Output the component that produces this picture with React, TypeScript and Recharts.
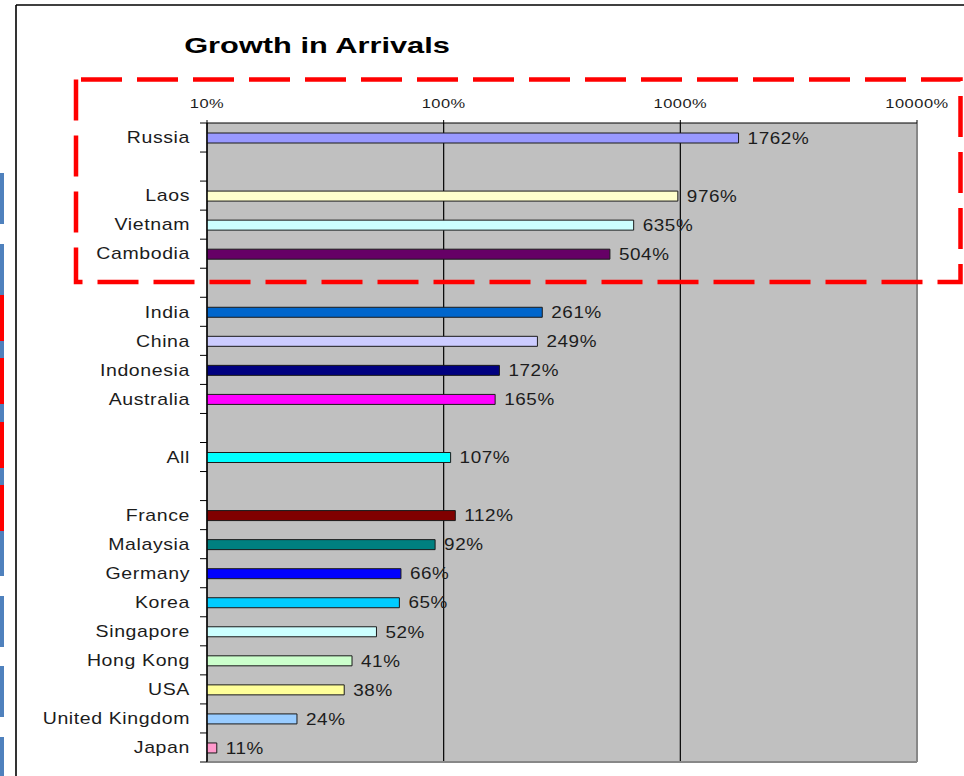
import React from 'react';
import {
  BarChart,
  Bar,
  XAxis,
  YAxis,
  CartesianGrid,
  Cell,
  LabelList,
  ReferenceLine,
} from 'recharts';

// ---- data ----
const CATEGORIES = [
  'Russia', '', 'Laos', 'Vietnam', 'Cambodia', '',
  'India', 'China', 'Indonesia', 'Australia', '',
  'All', '',
  'France', 'Malaysia', 'Germany', 'Korea', 'Singapore',
  'Hong Kong', 'USA', 'United Kingdom', 'Japan',
];
const GROWTH: (number | null)[] = [
  1762, null, 976, 635, 504, null,
  261, 249, 172, 165, null,
  107, null,
  112, 92, 66, 65, 52,
  41, 38, 24, 11,
];
const BAR_COLORS = [
  '#9999FF', '#000000', '#FFFFCC', '#CCFFFF', '#660066', '#000000',
  '#0066CC', '#CCCCFF', '#000080', '#FF00FF', '#000000',
  '#00FFFF', '#000000',
  '#800000', '#008080', '#0000FF', '#00CCFF', '#CCFFFF',
  '#CCFFCC', '#FFFF99', '#99CCFF', '#FF99CC',
];
const X_TICKS = [10, 100, 1000, 10000];
const TITLE = 'Growth in Arrivals';

const rows = CATEGORIES.map((name, i) => ({ id: `r${i}`, name, value: GROWTH[i] }));

// ---- layout ----
const W = 964;
const H = 776;
const MARGIN = { top: 93, right: 47, bottom: 13, left: 0 };
const TOP_AXIS_H = 30;
const BOTTOM_AXIS_H = 1;
const Y_AXIS_W = 207;
const PLOT_H = H - MARGIN.top - MARGIN.bottom - TOP_AXIS_H - BOTTOM_AXIS_H;
const ROW_H = PLOT_H / rows.length;
const FONT = 'Arial, "Liberation Sans", sans-serif';
const TEXT = '#1c1c1c';
const Y_TICK_SIZE = 7;
const Y_TICK_MARGIN = 8;

const CategoryTick = (props: any) => {
  const { x, y, index } = props;
  const name = rows[index] ? rows[index].name : '';
  const axisX = x + Y_TICK_SIZE + Y_TICK_MARGIN;
  const last = index === rows.length - 1;
  return (
    <g>
      <line x1={axisX - Y_TICK_SIZE} x2={axisX} y1={y - ROW_H / 2} y2={y - ROW_H / 2} stroke="#000" strokeWidth={1} />
      {last && (
        <line x1={axisX - Y_TICK_SIZE} x2={axisX} y1={y + ROW_H / 2} y2={y + ROW_H / 2} stroke="#000" strokeWidth={1} />
      )}
      {name && (
        <text
          transform={`translate(${x - 2},${y}) scale(1.22,1)`}
          dy="0.36em"
          textAnchor="end"
          fontFamily={FONT}
          fontSize={16}
          fill={TEXT}
          style={{ letterSpacing: '0.5px' }}
        >
          {name}
        </text>
      )}
    </g>
  );
};

const PercentTick = (props: any) => {
  const { x, y, payload } = props;
  return (
    <text
      transform={`translate(${x},${y}) scale(1.22,1)`}
      textAnchor="middle"
      fontFamily={FONT}
      fontSize={13.5}
      fill={TEXT}
      style={{ letterSpacing: '0.4px' }}
    >
      {`${payload.value}%`}
    </text>
  );
};

const ValueLabel = (props: any) => {
  const { value } = props;
  if (value === null || value === undefined) return null;
  const vb = props.viewBox || props;
  const x = (vb.x ?? props.x) as number;
  const y = (vb.y ?? props.y) as number;
  const w = (vb.width ?? props.width) as number;
  const h = (vb.height ?? props.height) as number;
  return (
    <text
      transform={`translate(${x + w + 9},${y + h / 2}) scale(1.18,1)`}
      dy="0.36em"
      textAnchor="start"
      fontFamily={FONT}
      fontSize={16}
      fill={TEXT}
      style={{ letterSpacing: '0.5px' }}
    >
      {`${value}%`}
    </text>
  );
};

// decorative slide strip on the far left
const STRIP = [
  { y0: 173, y1: 224, c: '#4F81BD' },
  { y0: 244, y1: 295, c: '#4F81BD' },
  { y0: 295, y1: 341, c: '#FF0000' },
  { y0: 341, y1: 358, c: '#4F81BD' },
  { y0: 358, y1: 404, c: '#FF0000' },
  { y0: 404, y1: 422, c: '#4F81BD' },
  { y0: 422, y1: 468, c: '#FF0000' },
  { y0: 468, y1: 485, c: '#4F81BD' },
  { y0: 485, y1: 531, c: '#FF0000' },
  { y0: 531, y1: 576, c: '#4F81BD' },
  { y0: 596, y1: 647, c: '#4F81BD' },
  { y0: 666, y1: 717, c: '#4F81BD' },
  { y0: 737, y1: 776, c: '#4F81BD' },
];

export default function App() {
  return (
    <div style={{ position: 'absolute', left: 0, top: 0, width: W, height: H, background: '#fff' }}>
      <svg
        width={W}
        height={H}
        style={{ position: 'absolute', left: 0, top: 0, pointerEvents: 'none' }}
      >
        {STRIP.map((s, i) => (
          <rect key={i} x={0} y={s.y0} width={4} height={s.y1 - s.y0} fill={s.c} />
        ))}
        <line x1={16} x2={16} y1={5} y2={H} stroke="#000" strokeWidth={1.6} />
        <line x1={16} x2={W} y1={5} y2={5} stroke="#000" strokeWidth={1.6} />
        <text
          transform="translate(317,53) scale(1.4,1)"
          textAnchor="middle"
          fontFamily={FONT}
          fontWeight="bold"
          fontSize={22}
          fill="#000"
        >
          {TITLE}
        </text>
      </svg>
      <div style={{ position: 'absolute', left: 0, top: 0 }}>
        <BarChart width={W} height={H} data={rows} layout="vertical" margin={MARGIN}>
          <CartesianGrid
            horizontal={false}
            vertical={true}
            stroke="#000"
            strokeWidth={1.2}
            fill="#C0C0C0"
            fillOpacity={1}
          />
          <XAxis
            type="number"
            scale="log"
            domain={[10, 10000]}
            ticks={X_TICKS}
            orientation="top"
            height={TOP_AXIS_H}
            allowDataOverflow
            axisLine={{ stroke: '#000', strokeWidth: 1.2 }}
            tickLine={{ stroke: '#000' }}
            tickSize={3}
            tickMargin={12}
            tick={<PercentTick />}
            interval={0}
          />
          <XAxis
            xAxisId="b"
            type="number"
            scale="log"
            domain={[10, 10000]}
            ticks={X_TICKS}
            orientation="bottom"
            height={BOTTOM_AXIS_H}
            allowDataOverflow
            axisLine={{ stroke: '#888', strokeWidth: 2 }}
            tickLine={false}
            tick={false}
          />
          <YAxis
            type="category"
            dataKey="id"
            width={Y_AXIS_W}
            axisLine={{ stroke: '#000', strokeWidth: 1.2 }}
            tickLine={false}
            tickSize={Y_TICK_SIZE}
            tickMargin={Y_TICK_MARGIN}
            tick={<CategoryTick />}
            interval={0}
          />
          <ReferenceLine x={10000} stroke="#888" strokeWidth={2} />
          <Bar
            dataKey="value"
            barSize={10}
            stroke="#1a1a1a"
            strokeWidth={1}
            isAnimationActive={false}
          >
            {rows.map((r, i) => (
              <Cell key={r.id} fill={BAR_COLORS[i]} />
            ))}
            <LabelList dataKey="value" content={<ValueLabel />} />
          </Bar>
        </BarChart>
      </div>
      <svg
        width={W}
        height={H}
        style={{ position: 'absolute', left: 0, top: 0, pointerEvents: 'none' }}
      >
        <path
          d="M76 79.5 L76 282 L960.5 282 L960.5 79.5 Z"
          fill="none"
          stroke="#FF0000"
          strokeWidth={4.5}
          strokeDasharray="41 15"
        />
      </svg>
    </div>
  );
}
